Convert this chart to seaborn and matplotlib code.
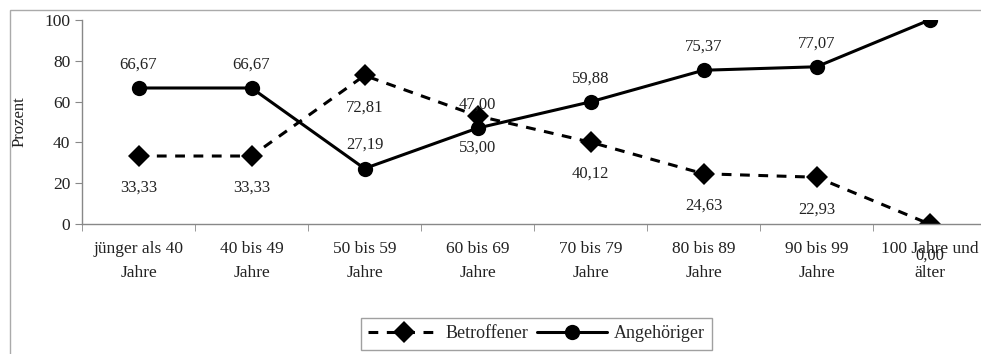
import pandas as pd
import matplotlib.pyplot as plt
import seaborn as sns
from matplotlib.patches import Rectangle

# Data
age_groups = ['jünger als 40\nJahre', '40 bis 49\nJahre', '50 bis 59\nJahre', '60 bis 69\nJahre',
              '70 bis 79\nJahre', '80 bis 89\nJahre', '90 bis 99\nJahre', '100 Jahre und\nälter']
betroffener = [33.33, 33.33, 72.81, 53.00, 40.12, 24.63, 22.93, 0.00]
angehoeriger = [66.67, 66.67, 27.19, 47.00, 59.88, 75.37, 77.07, 100.00]
series_names = ['Betroffener', 'Angehöriger']

df = pd.DataFrame({
    'age': age_groups * 2,
    'value': betroffener + angehoeriger,
    'series': [series_names[0]] * len(age_groups) + [series_names[1]] * len(age_groups),
})

sns.set_style("white")
plt.rcParams['font.family'] = ['Liberation Serif', 'DejaVu Serif']

fig = plt.figure(figsize=(9.81, 3.54), dpi=100)
ax = fig.add_axes([0.0836, 0.3672, 0.9215, 0.5763])

sns.lineplot(
    data=df, x='age', y='value', hue='series', style='series',
    palette={'Betroffener': 'black', 'Angehöriger': 'black'},
    markers={'Betroffener': 'D', 'Angehöriger': 'o'},
    dashes={'Betroffener': (3.2, 2.8), 'Angehöriger': ''},
    markersize=11, markeredgewidth=0, linewidth=2.2, sort=False, ax=ax,
)

# Value labels (the label above the 100 % point falls outside the chart, as in the original)
for i, v in enumerate(angehoeriger):
    if v >= 100:
        continue
    ax.annotate(f"{v:.2f}".replace('.', ','), (i, v), textcoords="offset points",
                xytext=(0, 17), ha='center', va='center', fontsize=12, color='#222222',
                annotation_clip=False)
for i, v in enumerate(betroffener):
    ax.annotate(f"{v:.2f}".replace('.', ','), (i, v), textcoords="offset points",
                xytext=(0, -23), ha='center', va='center', fontsize=12, color='#222222',
                annotation_clip=False)

ax.set_xlim(-0.5, len(age_groups) - 0.5)
ax.set_ylim(0, 100)
ax.set_yticks(range(0, 101, 20))
ax.set_xlabel('')
ax.set_ylabel('Prozent', fontsize=12, color='#222222', labelpad=12)

for s in ['top', 'right']:
    ax.spines[s].set_visible(False)
for s in ['left', 'bottom']:
    ax.spines[s].set_color('#888888')
    ax.spines[s].set_linewidth(1)

ax.tick_params(axis='y', length=5, color='#888888', labelsize=12.5, labelcolor='#222222', direction='out', left=True)
ax.tick_params(axis='x', which='major', length=0, labelsize=12.5, labelcolor='#222222', pad=12)
ax.set_xticks([x - 0.5 for x in range(len(age_groups) + 1)], minor=True)
ax.tick_params(axis='x', which='minor', length=5, color='#888888', direction='out', bottom=True)
for lbl in ax.get_xticklabels():
    lbl.set_linespacing(1.7)

ax.grid(False)

leg = ax.legend(loc='center', bbox_to_anchor=(0.547, 0.0565), bbox_transform=fig.transFigure,
                ncol=2, frameon=True, fancybox=False, fontsize=13, handlelength=3.9,
                columnspacing=0.5, handletextpad=0.35, borderpad=0.4, title=None)
leg.get_frame().set_edgecolor('#888888')
leg.get_frame().set_linewidth(1)

# Outer chart frame
fig.patches.append(Rectangle((10 / 981, -0.1), 1.2, 0.9718 + 0.1, transform=fig.transFigure,
                             fill=False, edgecolor='#aaaaaa', linewidth=1, zorder=0))

fig.savefig('out.png', dpi=100)
